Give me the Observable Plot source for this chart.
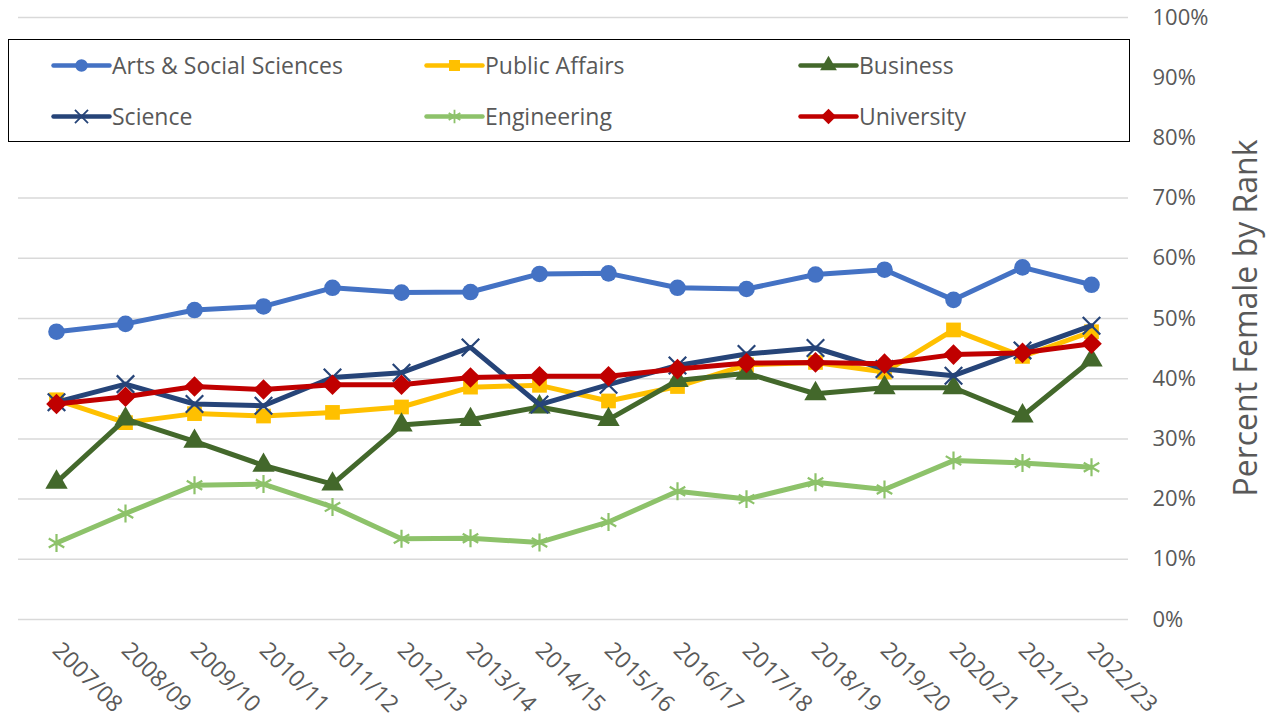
<!DOCTYPE html>
<html>
<head>
<meta charset="utf-8">
<script src="https://cdn.jsdelivr.net/npm/d3@7"></script>
<script src="https://cdn.jsdelivr.net/npm/@observablehq/plot@0.6"></script>
<style>
  body { margin: 0; background: #fff; font-family: "Open Sans", sans-serif; }
  #wrap { position: relative; width: 1276px; height: 721px; overflow: hidden; }
  #legend { position: absolute; left: 8px; top: 39px; width: 1122px; height: 103px; border: 1.5px solid #000; background: #fff; box-sizing: border-box; }
  .item { position: absolute; display: flex; align-items: center; font-size: 23px; color: #595959; height: 30px; }
  .item svg { margin-right: 3px; }
  #ytitle { position: absolute; left: 1244px; top: 318px; transform: translate(-50%, -50%) rotate(-90deg); white-space: nowrap; font-size: 32px; color: #595959; }
</style>
</head>
<body>
<div id="wrap"></div>
<script>
const years = ["2007/08","2008/09","2009/10","2010/11","2011/12","2012/13","2013/14","2014/15","2015/16","2016/17","2017/18","2018/19","2019/20","2020/21","2021/22","2022/23"];
const seriesNames = ["Arts & Social Sciences","Public Affairs","Business","Science","Engineering","University"];
const arts = [47.8,49.1,51.4,52.0,55.1,54.3,54.4,57.4,57.5,55.1,54.9,57.3,58.1,53.1,58.5,55.6];
const publicAffairs = [36.5,32.7,34.2,33.8,34.4,35.3,38.6,38.9,36.3,38.7,42.3,42.7,41.1,48.1,43.7,47.8];
const business = [22.8,33.3,29.6,25.6,22.5,32.3,33.2,35.3,33.2,39.7,40.9,37.5,38.5,38.5,33.8,43.1];
const science = [36.1,39.1,35.8,35.5,40.2,41.0,45.2,35.7,39.0,42.2,44.1,45.1,41.6,40.5,44.7,48.8];
const engineering = [12.7,17.6,22.3,22.5,18.7,13.4,13.5,12.8,16.2,21.3,20.0,22.8,21.6,26.4,26.0,25.3];
const university = [35.8,37.0,38.7,38.2,39.0,39.0,40.2,40.4,40.4,41.6,42.6,42.7,42.5,44.0,44.3,45.8];
const yTicks = [0,0.1,0.2,0.3,0.4,0.5,0.6,0.7,0.8,0.9,1.0];

const seriesValues = [arts, publicAffairs, business, science, engineering, university];
const styles = [
  {color: "#4472C4", symbol: "circle", r: 8.3, fill: true},
  {color: "#FFC000", symbol: "square", r: 8.3, fill: true},
  {color: "#43682B", symbol: "triangle", r: 8.3, fill: true},
  {color: "#264478", symbol: "times", r: 8, fill: false},
  {color: "#8DC26A", symbol: "asterisk", r: 8.5, fill: false},
  {color: "#C00000", symbol: "diamond2", r: 9.3, fill: true}
];

const data = [];
seriesNames.forEach((s, i) => seriesValues[i].forEach((v, j) => data.push({series: s, year: years[j], value: v / 100})));

const marks = [
  Plot.gridY(yTicks, {stroke: "#d9d9d9", strokeOpacity: 1, strokeWidth: 1.5}),
  Plot.axisY(yTicks, {anchor: "right", tickSize: 0, tickPadding: 24, tickFormat: d3.format(".0%"), fontSize: 22, fill: "#595959", label: null, textAnchor: "start"}),
  Plot.axisX({tickRotate: 45, tickSize: 0, tickPadding: 27, fontSize: 23, fill: "#595959", label: null})
];
seriesNames.forEach((s, i) => {
  const st = styles[i];
  const d = data.filter(r => r.series === s);
  marks.push(Plot.line(d, {x: "year", y: "value", stroke: st.color, strokeWidth: 5, strokeLinejoin: "round"}));
  marks.push(Plot.dot(d, {x: "year", y: "value", symbol: () => st.symbol, r: st.r,
    fill: st.fill ? st.color : "none", stroke: st.color, strokeWidth: st.fill ? 0 : 2.2}));
});

const chart = Plot.plot({
  width: 1276, height: 721,
  marginLeft: 18, marginRight: 148, marginTop: 17, marginBottom: 102,
  style: {fontFamily: "Open Sans, sans-serif", background: "#fff"},
  x: {type: "point", domain: years, padding: 0.5},
  y: {domain: [0, 1]},
  symbol: {type: "identity"},
  marks
});
const wrap = document.getElementById("wrap");
wrap.appendChild(chart);

const legend = document.createElement("div");
legend.id = "legend";
const cols = [44, 417, 791];
const rows = [25, 76];
seriesNames.forEach((s, i) => {
  const st = styles[i];
  const item = document.createElement("div");
  item.className = "item";
  item.style.left = cols[i % 3] + "px";
  item.style.top = (rows[Math.floor(i / 3)] - 15) + "px";
  const sw = Plot.plot({
    width: 56, height: 28, margin: 0,
    x: {domain: [0, 1], axis: null}, y: {domain: [0, 1], axis: null},
    symbol: {type: "identity"},
    style: {background: "transparent", overflow: "visible"},
    marks: [
      Plot.lineX([{x: 0, y: 0.5}, {x: 1, y: 0.5}], {x: "x", y: "y", stroke: st.color, strokeWidth: 4.5, strokeLinecap: "round"}),
      Plot.dot([{x: 0.5, y: 0.5}], {x: "x", y: "y", symbol: () => st.symbol, r: st.r * 0.75, fill: st.fill ? st.color : "none", stroke: st.color, strokeWidth: st.fill ? 0 : 1.8})
    ]
  });
  item.appendChild(sw);
  const t = document.createElement("span");
  t.textContent = s;
  item.appendChild(t);
  legend.appendChild(item);
});
wrap.appendChild(legend);

const yt = document.createElement("div");
yt.id = "ytitle";
yt.textContent = "Percent Female by Rank";
wrap.appendChild(yt);
</script>
</body>
</html>
